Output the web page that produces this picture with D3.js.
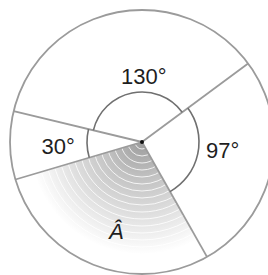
<!DOCTYPE html>
<html>
<head>
<meta charset="utf-8">
<script src="https://cdn.jsdelivr.net/npm/d3@7"></script>
<style>
  html, body { margin: 0; padding: 0; background: #fff; }
  svg { display: block; }
</style>
</head>
<body>
<div id="chart"></div>
<script>
// sectors, clockwise from the upper-left ray
const angles = [130, 97, 103, 30];
const labels = ['130\u00b0', '97\u00b0', '\u00c2', '30\u00b0'];
const marked = [true, true, false, true];   // has an angle arc
const shaded = [false, false, true, false]; // unknown angle A

const width = 268, height = 275;
const cx = 142, cy = 142;
const outerR = 132;
const startDeg = -76.5;

// per-sector layout (arc radius, label radius, label angle shift)
const arcR = [50, 57, 0, 55];
const labelR = [66, 81, 93, 84];
const labelShift = [13, -6, -6, -1];

const rad = d => d * Math.PI / 180;

const svg = d3.select('#chart').append('svg')
  .attr('width', width)
  .attr('height', height);

const defs = svg.append('defs');
const grad = defs.append('radialGradient')
  .attr('id', 'shade')
  .attr('gradientUnits', 'userSpaceOnUse')
  .attr('cx', 0).attr('cy', 0).attr('r', 122);
grad.append('stop').attr('offset', '0%').attr('stop-color', '#9c9c9c');
grad.append('stop').attr('offset', '30%').attr('stop-color', '#c2c2c2');
grad.append('stop').attr('offset', '60%').attr('stop-color', '#dfdfdf');
grad.append('stop').attr('offset', '92%').attr('stop-color', '#ffffff');

const g = svg.append('g')
  .attr('transform', 'translate(' + cx + ',' + cy + ')');

const pie = d3.pie()
  .sort(null)
  .startAngle(rad(startDeg))
  .endAngle(rad(startDeg + 360));

const arcs = pie(angles);

// shaded sector
const sector = d3.arc().innerRadius(0).outerRadius(outerR);
arcs.forEach((a, i) => {
  if (!shaded[i]) return;
  const clipId = 'clip' + i;
  defs.append('clipPath').attr('id', clipId)
    .append('path').attr('d', sector(a));
  const sg = g.append('g').attr('clip-path', 'url(#' + clipId + ')');
  sg.append('path')
    .attr('d', sector(a))
    .attr('fill', 'url(#shade)');
  sg.selectAll('circle.ring')
    .data(d3.range(7, 115, 7))
    .enter().append('circle')
      .attr('class', 'ring')
      .attr('r', d => d)
      .attr('fill', 'none')
      .attr('stroke', '#fff')
      .attr('stroke-opacity', 0.9)
      .attr('stroke-width', 0.9);
});

// outer circle
g.append('circle')
  .attr('r', outerR)
  .attr('fill', 'none')
  .attr('stroke', '#9b9b9b')
  .attr('stroke-width', 1.8);

// rays
g.selectAll('line.ray')
  .data(arcs)
  .enter().append('line')
    .attr('class', 'ray')
    .attr('x1', 0).attr('y1', 0)
    .attr('x2', d => outerR * Math.sin(d.startAngle))
    .attr('y2', d => -outerR * Math.cos(d.startAngle))
    .attr('stroke', '#9b9b9b')
    .attr('stroke-width', 1.8);

// angle arcs
arcs.forEach((a, i) => {
  if (!marked[i]) return;
  const arcLine = d3.arc()
    .innerRadius(arcR[i]).outerRadius(arcR[i]);
  g.append('path')
    .attr('d', arcLine(a))
    .attr('fill', 'none')
    .attr('stroke', '#707070')
    .attr('stroke-width', 1.6);
});

// labels
g.selectAll('text.label')
  .data(arcs)
  .enter().append('text')
    .attr('class', 'label')
    .attr('x', (d, i) => labelR[i] * Math.sin((d.startAngle + d.endAngle) / 2 + rad(labelShift[i])))
    .attr('y', (d, i) => -labelR[i] * Math.cos((d.startAngle + d.endAngle) / 2 + rad(labelShift[i])))
    .attr('text-anchor', 'middle')
    .attr('dy', '0.36em')
    .attr('font-family', 'Liberation Sans, Arial, sans-serif')
    .attr('font-size', 22)
    .attr('font-style', (d, i) => shaded[i] ? 'italic' : 'normal')
    .attr('fill', '#1e1e1e')
    .text((d, i) => labels[i]);

// centre point
g.append('circle')
  .attr('r', 2)
  .attr('fill', '#111');
</script>
</body>
</html>
